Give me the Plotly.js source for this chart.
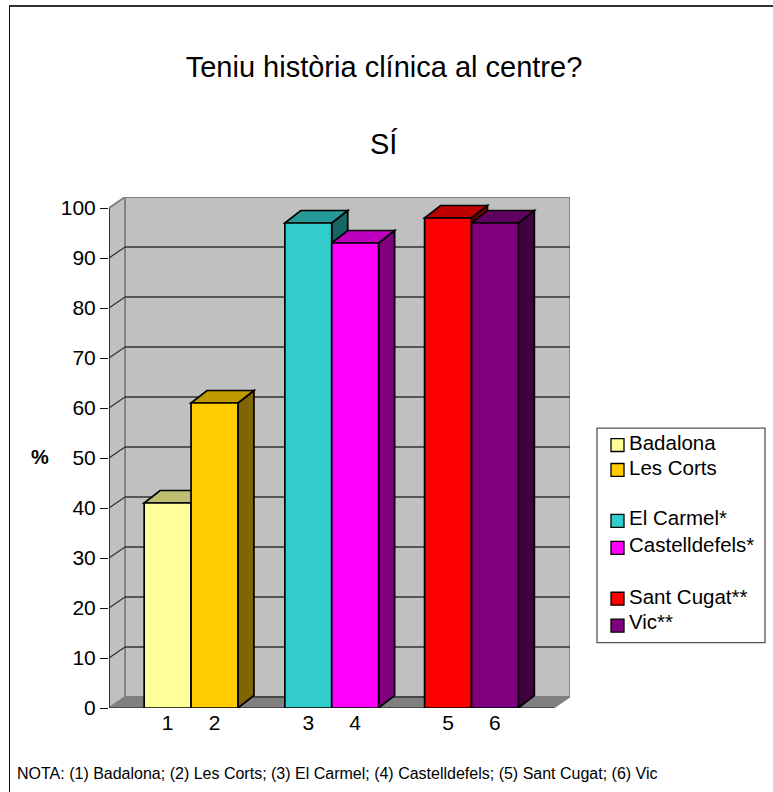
<!DOCTYPE html>
<html>
<head>
<meta charset="utf-8">
<script src="https://cdn.plot.ly/plotly-3.0.1.min.js"></script>
<style>
html,body{margin:0;padding:0;background:#fff;overflow:hidden}
#frame{position:absolute;left:8.5px;top:5px;right:0;bottom:0;border-top:2px solid #333;border-left:1.5px solid #111;pointer-events:none;z-index:5}
#chart{position:absolute;left:0;top:0;width:773px;height:792px}
</style>
</head>
<body>
<div id="chart"></div>
<div id="frame"></div>
<script>
const centres = ['Badalona', 'Les Corts', 'El Carmel*', 'Castelldefels*', 'Sant Cugat**', 'Vic**'];
const tickLabels = ['1', '2', '3', '4', '5', '6'];
const slots = [0, 1, 3, 4, 5.98, 6.98];
const values = [41, 61, 97, 93, 98, 97];
const colors = ['#FFFF99', '#FFCC00', '#33CCCC', '#FF00FF', '#FF0000', '#800080'];
const yTicks = [0, 10, 20, 30, 40, 50, 60, 70, 80, 90, 100];

const FONT = 'Liberation Sans, Arial, Helvetica, sans-serif';
const half = 0.5;
const dx = 0.341, dy = 2.2, barDy = 2.5;
const xL = -1.25, xR = 8.24;

// plot rectangle in page pixels
const mL = 109, mR = 203, mT = 196.5, mB = 83.5;
const pw = 773 - mL - mR, ph = 792 - mT - mB;
const px = p => (p - mL) / pw;
const py = p => (792 - mB - p) / ph;

function shade(hex, f) {
  const n = parseInt(hex.slice(1), 16);
  const c = [(n >> 16) & 255, (n >> 8) & 255, n & 255].map(v => Math.round(v * f));
  return 'rgb(' + c.join(',') + ')';
}
function poly(pts, fill, lineColor, w) {
  return {
    type: 'path', xref: 'x', yref: 'y', layer: 'below',
    path: 'M' + pts.map(p => p[0] + ',' + p[1]).join('L') + 'Z',
    fillcolor: fill, line: {color: lineColor, width: w}
  };
}
function seg(x0, y0, x1, y1, color, w) {
  return {type: 'line', xref: 'x', yref: 'y', layer: 'below', x0, y0, x1, y1, line: {color, width: w}};
}

const shapes = [];
// walls and floor
shapes.push(poly([[xL + dx, dy], [xR + dx, dy], [xR + dx, 100 + dy], [xL + dx, 100 + dy]], '#C0C0C0', '#808080', 1.8));
shapes.push(poly([[xL, 0], [xL + dx, dy], [xL + dx, 100 + dy], [xL, 100]], '#C0C0C0', '#808080', 1.8));
shapes.push(poly([[xL, 0], [xR, 0], [xR + dx, dy], [xL + dx, dy]], '#808080', '#808080', 1));
// gridlines
yTicks.filter(v => v > 0 && v < 100).forEach(v => {
  shapes.push(seg(xL + dx, v + dy, xR + dx, v + dy, '#333333', 1.3));
  shapes.push(seg(xL, v, xL + dx, v + dy, '#333333', 1.3));
});
shapes.push(seg(slots[1] + half + dx, dy, slots[4] - half, dy, '#333333', 1.3));
// front edges
shapes.push(seg(xL, 0, xL, 100, '#111111', 1.4));
shapes.push(seg(xL, 100, xL + dx, 100 + dy, '#808080', 1.3));
shapes.push(seg(xL, 0, xR, 0, '#333333', 1.3));
// top and side faces of each bar, back to front
slots.forEach((s, i) => {
  const l = s - half, r = s + half, v = values[i];
  shapes.push(poly([[r, 0], [r + dx, barDy], [r + dx, v + barDy], [r, v]], shade(colors[i], 0.5), '#000000', 1.7));
  shapes.push(poly([[l, v], [r, v], [r + dx, v + barDy], [l + dx, v + barDy]], shade(colors[i], 0.75), '#000000', 1.7));
});

const annotations = [
  {text: 'SÍ', xref: 'paper', yref: 'paper', x: px(384), y: py(143),
   xanchor: 'center', yanchor: 'middle', showarrow: false, font: {size: 29, family: FONT}},
  {text: '<b>%</b>', xref: 'paper', yref: 'paper', x: px(40), y: py(457),
   xanchor: 'center', yanchor: 'middle', showarrow: false, font: {size: 20, family: FONT}},
  {text: 'NOTA: (1) Badalona; (2) Les Corts; (3) El Carmel; (4) Castelldefels; (5) Sant Cugat; (6) Vic',
   xref: 'paper', yref: 'paper', x: px(15), y: py(774),
   xanchor: 'left', yanchor: 'middle', showarrow: false, font: {size: 16, family: FONT}}
];

// legend box, swatches and labels
const legendText = [442, 468, 518, 545, 597, 622];
const legendSwatch = [445, 470, 521, 548, 599, 626];
shapes.push({type: 'rect', xref: 'paper', yref: 'paper', layer: 'above',
  x0: px(597), x1: px(765), y0: py(428), y1: py(643), fillcolor: '#FFFFFF', line: {color: '#555555', width: 1.3}});
centres.forEach((name, i) => {
  shapes.push({type: 'rect', xref: 'paper', yref: 'paper', layer: 'above',
    x0: px(611), x1: px(624), y0: py(legendSwatch[i] - 6.5), y1: py(legendSwatch[i] + 6.5),
    fillcolor: colors[i], line: {color: '#000000', width: 1.3}});
  annotations.push({text: name, xref: 'paper', yref: 'paper', x: px(627), y: py(legendText[i]),
    xanchor: 'left', yanchor: 'middle', showarrow: false, font: {size: 20.5, family: FONT}});
});

const traces = centres.map((name, i) => ({
  type: 'bar',
  name,
  x: [slots[i]],
  y: [values[i]],
  width: 1,
  marker: {color: colors[i], line: {color: '#000000', width: 1.7}},
  hoverinfo: 'name+y'
}));

const layout = {
  width: 773, height: 792,
  margin: {l: mL, r: mR, t: mT, b: mB, pad: 0},
  paper_bgcolor: '#FFFFFF', plot_bgcolor: 'rgba(0,0,0,0)',
  font: {family: FONT, color: '#000000'},
  barmode: 'overlay',
  showlegend: false,
  title: {text: 'Teniu història clínica al centre?', font: {size: 29, family: FONT, color: '#000'},
          x: 384 / 773, xanchor: 'center', y: 1 - 67 / 792, yanchor: 'middle'},
  xaxis: {range: [xL, xR + dx], tickmode: 'array', tickvals: slots, ticktext: tickLabels,
          showgrid: false, zeroline: false, showline: false, ticks: '', ticklen: 0,
          tickfont: {size: 21, family: FONT}, automargin: false, fixedrange: true},
  yaxis: {range: [0, 100 + dy], tickmode: 'array', tickvals: yTicks, ticktext: yTicks.map(String),
          showgrid: false, zeroline: false, showline: false, ticks: 'outside', ticklen: 8, tickwidth: 1.3, tickcolor: '#111',
          tickfont: {size: 21, family: FONT}, automargin: false, fixedrange: true},
  shapes,
  annotations
};
Plotly.newPlot('chart', traces, layout, {displayModeBar: false});
</script>
</body>
</html>
